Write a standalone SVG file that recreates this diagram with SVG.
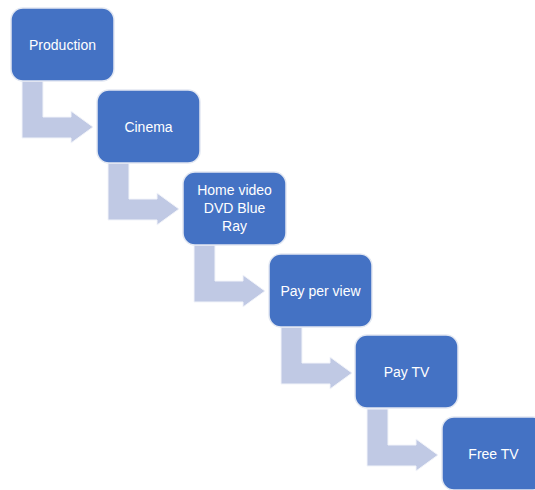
<svg xmlns="http://www.w3.org/2000/svg" width="535" height="490" viewBox="0 0 535 490">
<style>
.box{fill:#4472C4;stroke:#E3E8F2;stroke-width:1.5}
.arr{fill:#C0C9E4;stroke:#F2F4FA;stroke-width:1}
.t{font-family:"Liberation Sans",Arial,sans-serif;font-size:14px;fill:#FFFFFF;text-anchor:middle}
</style>
<defs>
<path id="bent" d="M0 0 H21 V36 H49 V30 L71 46 L49 62 V57 H0 Z"/>
<rect id="card" x="0" y="0" width="103" height="73" rx="12" ry="12"/>
</defs>
<g id="connectors">
<use href="#bent" class="arr" transform="translate(22,81)"/>
<use href="#bent" class="arr" transform="translate(108,163)"/>
<use href="#bent" class="arr" transform="translate(194,245)"/>
<use href="#bent" class="arr" transform="translate(281,327)"/>
<use href="#bent" class="arr" transform="translate(367,409)"/>
</g>
<g id="production" transform="translate(11,8)">
<use href="#card" class="box"/>
<text class="t" x="51.5" y="41.5">Production</text>
</g>
<g id="cinema" transform="translate(97,90)">
<use href="#card" class="box"/>
<text class="t" x="51.5" y="41.5">Cinema</text>
</g>
<g id="homevideo" transform="translate(183,172)">
<use href="#card" class="box"/>
<text class="t" x="51.5" y="23">Home video</text>
<text class="t" x="51.5" y="41">DVD Blue</text>
<text class="t" x="51.5" y="59">Ray</text>
</g>
<g id="payperview" transform="translate(269,254)">
<use href="#card" class="box"/>
<text class="t" x="51.5" y="41.5">Pay per view</text>
</g>
<g id="paytv" transform="translate(355,335)">
<use href="#card" class="box"/>
<text class="t" x="51.5" y="41.5">Pay TV</text>
</g>
<g id="freetv" transform="translate(442,417)">
<use href="#card" class="box"/>
<text class="t" x="51.5" y="41.5">Free TV</text>
</g>
</svg>
